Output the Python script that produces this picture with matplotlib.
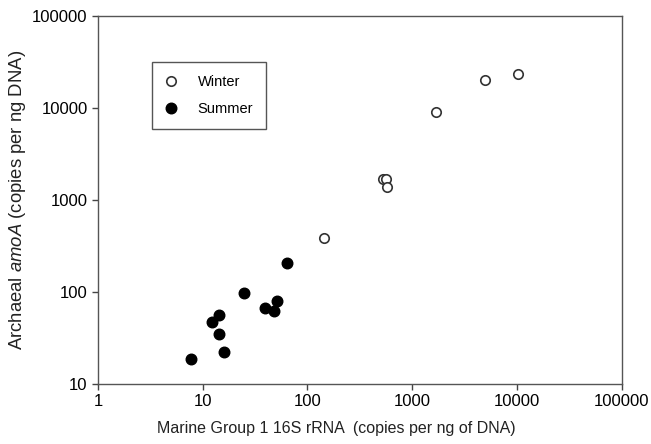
import matplotlib
matplotlib.use("Agg")
import matplotlib.pyplot as plt
from matplotlib.ticker import FixedLocator, FixedFormatter, NullLocator

plt.rcParams['font.family'] = ['Liberation Sans', 'DejaVu Sans']
plt.rcParams['mathtext.fontset'] = 'custom'
plt.rcParams['mathtext.it'] = 'Liberation Sans:italic'
plt.rcParams['mathtext.rm'] = 'Liberation Sans'

winter_x = [145, 525, 560, 580, 1690, 4920, 10300]
winter_y = [383, 1690, 1690, 1373, 9050, 20300, 23600]
summer_x = [7.8, 12.2, 14.4, 14.3, 16.0, 24.6, 38.9, 48, 51.6, 64.3]
summer_y = [18.7, 47.6, 56, 34.7, 22.5, 98, 67, 63, 79, 208]

x_ticks = [1, 10, 100, 1000, 10000, 100000]
x_labels = ['1', '10', '100', '1000', '10000', '100000']
y_ticks = [10, 100, 1000, 10000, 100000]
y_labels = ['10', '100', '1000', '10000', '100000']

fig = plt.figure(figsize=(6.51, 4.44), dpi=100)
ax = fig.add_axes([0.1505, 0.135, 0.8045, 0.829])
ax.set_xscale('log')
ax.set_yscale('log')
ax.set_xlim(1, 100000)
ax.set_ylim(10, 100000)

ax.plot(winter_x, winter_y, 'o', linestyle='none', markersize=6.8,
        markerfacecolor='white', markeredgecolor='#333333', markeredgewidth=1.2,
        label='Winter')
ax.plot(summer_x, summer_y, 'o', linestyle='none', markersize=7.6,
        markerfacecolor='black', markeredgecolor='black', label='Summer')

ax.xaxis.set_major_locator(FixedLocator(x_ticks))
ax.xaxis.set_major_formatter(FixedFormatter(x_labels))
ax.yaxis.set_major_locator(FixedLocator(y_ticks))
ax.yaxis.set_major_formatter(FixedFormatter(y_labels))
ax.xaxis.set_minor_locator(NullLocator())
ax.yaxis.set_minor_locator(NullLocator())
ax.tick_params(axis='both', which='major', direction='out', length=4,
               width=1, labelsize=12, colors='#444444', labelcolor='black')
for s in ax.spines.values():
    s.set_color('#555555')
    s.set_linewidth(1)

ax.set_xlabel('Marine Group 1 16S rRNA  (copies per ng of DNA)', fontsize=11.5,
              color='#222222')
ax.xaxis.set_label_coords(0.456, -0.10)
ax.set_ylabel(r'Archaeal $amoA$ (copies per ng DNA)', fontsize=13.3,
              color='#222222')
ax.yaxis.set_label_coords(-0.134, 0.5)

leg = ax.legend(loc='upper left', bbox_to_anchor=(0.104, 0.875), fontsize=10.5,
                frameon=True, fancybox=False, edgecolor='#555555',
                borderpad=0.9, labelspacing=0.9, handletextpad=1.4,
                borderaxespad=0, handlelength=0.8, framealpha=1)
leg.get_frame().set_linewidth(1)

fig.savefig('out.png', dpi=100)
